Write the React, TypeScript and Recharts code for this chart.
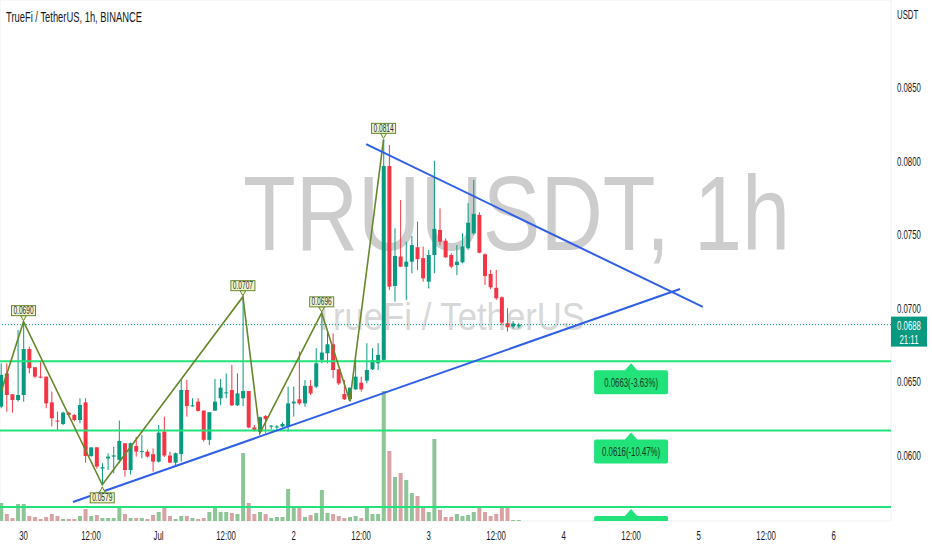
import React from 'react';
import {
  ComposedChart, Bar, Line, XAxis, YAxis, CartesianGrid, ReferenceLine, ReferenceDot, Cell,
} from 'recharts';

const W = 932;
const H = 550;
const PLOT_W = 891;
const PLOT_H = 521;
const AXIS_W = W - PLOT_W;
const XAXIS_H = H - PLOT_H;

const UP = '#089981';
const DOWN = '#f23645';
const VOL_UP = '#8cc596';
const VOL_DOWN = '#d9a2a5';
const LEVEL = '#22e27a';
const ZIG = '#66882a';
const TREND = '#2f5fe6';
const FONT = '"Liberation Sans", Arial, sans-serif';

// ── hourly candles, TRU/USDT ──────────────────────────────────────────────────
const opens = [
  0.06322, 0.06548, 0.06406, 0.06367, 0.06401, 0.06714, 0.06590, 0.06526, 0.06526, 0.06351,
  0.06227, 0.06204, 0.06281, 0.06265, 0.06231, 0.06351, 0.05986, 0.06045, 0.05901, 0.05970,
  0.05982, 0.05960, 0.06073, 0.05891, 0.06054, 0.06014, 0.06016, 0.05998, 0.05948, 0.06152,
  0.05989, 0.05941, 0.06000, 0.06435, 0.06326, 0.06356, 0.06295, 0.06096, 0.06295, 0.06379,
  0.06412, 0.06435, 0.06331, 0.06379, 0.06428, 0.06180, 0.06152, 0.06258, 0.06187, 0.06180,
  0.06187, 0.06187, 0.06344, 0.06372, 0.06344, 0.06463, 0.06458, 0.06640, 0.06685, 0.06746,
  0.06576, 0.06408, 0.06372, 0.06440, 0.06485, 0.06499, 0.06576, 0.06617, 0.06640, 0.07959,
  0.07143, 0.07343, 0.07274, 0.07308, 0.07406, 0.07332, 0.07172, 0.07353, 0.07524, 0.07451,
  0.07353, 0.07285, 0.07304, 0.07399, 0.07501, 0.07626, 0.07358, 0.07224, 0.07130, 0.07066,
  0.06889, 0.06866, 0.06868,
];
const highs = [
  0.06617, 0.06617, 0.06406, 0.06843, 0.06900, 0.06730, 0.06590, 0.06628, 0.06526, 0.06424,
  0.06288, 0.06288, 0.06286, 0.06271, 0.06379, 0.06379, 0.06045, 0.06045, 0.05937, 0.06005,
  0.06049, 0.06227, 0.06073, 0.06078, 0.06117, 0.06129, 0.06030, 0.06038, 0.06197, 0.06254,
  0.06016, 0.06010, 0.06503, 0.06503, 0.06379, 0.06379, 0.06295, 0.06284, 0.06510, 0.06510,
  0.06548, 0.06606, 0.06548, 0.07070, 0.06428, 0.06197, 0.06254, 0.06265, 0.06197, 0.06197,
  0.06215, 0.06458, 0.06458, 0.06697, 0.06503, 0.06503, 0.06719, 0.06960, 0.06831, 0.06820,
  0.06576, 0.06503, 0.06451, 0.06639, 0.06526, 0.06753, 0.06719, 0.06753, 0.08140, 0.08102,
  0.07535, 0.07728, 0.07444, 0.07483, 0.07580, 0.07411, 0.07388, 0.07995, 0.07671, 0.07467,
  0.07365, 0.07421, 0.07501, 0.07706, 0.07864, 0.07644, 0.07365, 0.07252, 0.07252, 0.07072,
  0.06991, 0.06905, 0.06890,
];
const lows = [
  0.06311, 0.06288, 0.06281, 0.06356, 0.06356, 0.06548, 0.06515, 0.06515, 0.06311, 0.06187,
  0.06164, 0.06197, 0.06258, 0.06222, 0.06209, 0.05941, 0.05980, 0.05901, 0.05790, 0.05891,
  0.05869, 0.05937, 0.05846, 0.05860, 0.05982, 0.05970, 0.05975, 0.05880, 0.05941, 0.05980,
  0.05937, 0.05925, 0.05948, 0.06254, 0.06321, 0.06288, 0.06084, 0.06061, 0.06293, 0.06331,
  0.06379, 0.06326, 0.06326, 0.06326, 0.06175, 0.06152, 0.06141, 0.06141, 0.06168, 0.06152,
  0.06180, 0.06152, 0.06254, 0.06333, 0.06321, 0.06401, 0.06447, 0.06617, 0.06617, 0.06515,
  0.06469, 0.06367, 0.06356, 0.06435, 0.06424, 0.06480, 0.06571, 0.06571, 0.06630, 0.07116,
  0.07036, 0.07272, 0.07048, 0.07229, 0.07252, 0.07172, 0.07126, 0.07229, 0.07421, 0.07332,
  0.07263, 0.07217, 0.07297, 0.07388, 0.07490, 0.07365, 0.07150, 0.07121, 0.07048, 0.06878,
  0.06833, 0.06853, 0.06855,
];
const closes = [
  0.06538, 0.06401, 0.06367, 0.06401, 0.06714, 0.06583, 0.06526, 0.06522, 0.06344, 0.06243,
  0.06222, 0.06281, 0.06265, 0.06231, 0.06333, 0.05986, 0.06045, 0.05914, 0.05910, 0.05982,
  0.05990, 0.06089, 0.05891, 0.06073, 0.06016, 0.06020, 0.05982, 0.05948, 0.06145, 0.05989,
  0.05941, 0.06005, 0.06435, 0.06326, 0.06331, 0.06293, 0.06096, 0.06284, 0.06356, 0.06451,
  0.06419, 0.06331, 0.06412, 0.06428, 0.06180, 0.06164, 0.06250, 0.06237, 0.06193, 0.06187,
  0.06204, 0.06344, 0.06356, 0.06344, 0.06463, 0.06412, 0.06617, 0.06690, 0.06746, 0.06571,
  0.06480, 0.06372, 0.06451, 0.06526, 0.06440, 0.06571, 0.06639, 0.06674, 0.07959, 0.07138,
  0.07347, 0.07274, 0.07308, 0.07421, 0.07325, 0.07195, 0.07353, 0.07531, 0.07444, 0.07338,
  0.07274, 0.07308, 0.07411, 0.07573, 0.07633, 0.07369, 0.07211, 0.07134, 0.07059, 0.06894,
  0.06862, 0.06888, 0.06880,
];
const volumes = [
  18, 7, 3, 17, 17, 5, 4, 2, 4, 7,
  5, 2, 2, 2, 5, 12, 5, 6, 3, 3,
  3, 14, 7, 3, 3, 3, 2, 6, 9, 14,
  5, 2, 5, 5, 3, 2, 3, 9, 15, 9,
  9, 8, 7, 68, 18, 7, 9, 7, 3, 4,
  4, 32, 13, 15, 4, 6, 8, 31, 8, 7,
  5, 3, 4, 5, 3, 14, 7, 7, 130, 70,
  44, 48, 41, 28, 25, 14, 9, 82, 11, 4,
  4, 7, 5, 6, 9, 13, 9, 5, 7, 13,
  14, 1, 1,
];

// zigzag pivots (candle index, price)
const zigIdx = [0, 4, 18, 43, 46, 57, 62, 68];
const zigPrice = [0.06422, 0.0690, 0.0579, 0.0707, 0.0614, 0.0696, 0.0636, 0.0814];
const pivotIdx = [4, 18, 43, 57, 68];
const pivotPrice = [0.0690, 0.0579, 0.0707, 0.0696, 0.0814];
const pivotText = ['0.0690', '0.0579', '0.0707', '0.0696', '0.0814'];
const pivotIsHigh = [true, false, true, true, true];

// support levels (the last tag is cut off by the pane bottom)
const levels = [0.0663, 0.0616, 0.0564];
const levelText = ['0.0663(-3.63%)', '0.0616(-10.47%)', '0.0564(-18.02%)'];
const levelLabelIdx = 112;

// trend lines: [startIdx, startPrice, endIdx, endPrice]
const ascLine = [12.8, 0.05673, 120.7, 0.07122];
const descLine = [64.9, 0.08107, 124.75, 0.0700];

const currentPrice = 0.0688;
const countdown = '21:11';

const timeTicks = [4, 16, 28, 40, 52, 64, 76, 88, 100, 112, 124, 136, 148];
const timeLabels = ['30', '12:00', 'Jul', '12:00', '2', '12:00', '3', '12:00', '4', '12:00', '5', '12:00', '6'];
const priceTicks = [0.06, 0.065, 0.07, 0.075, 0.08, 0.085, 0.09];

const xDomain = [-0.18, 158.2];
const yDomain = [0.05544, 0.09088];

const zz = new Map(zigIdx.map((k, j) => [k, zigPrice[j]]));
const candles = opens.map((o, i) => ({
  i, o, h: highs[i], l: lows[i], c: closes[i], v: volumes[i],
  zz: zz.has(i) ? zz.get(i) : null,
}));

// ── shapes ────────────────────────────────────────────────────────────────────

function Candle(props: any) {
  const { x, y, width, height, payload } = props;
  if (!payload || y == null || height == null) return null;
  const { o, h, l, c } = payload;
  const top = Math.min(y, y + height);
  const span = Math.abs(height);
  const toY = (p: number) => top + ((h - p) / (h - l || 1)) * span;
  const color = c >= o ? UP : DOWN;
  const cx = x + width / 2;
  const bTop = toY(Math.max(o, c));
  const bBot = toY(Math.min(o, c));
  return (
    <g>
      <line x1={cx} x2={cx} y1={top} y2={top + span} stroke={color} strokeWidth={1} />
      <rect x={x} y={bTop} width={width} height={Math.max(1, bBot - bTop)} fill={color} />
    </g>
  );
}

function Squeezed({ x, y, text, size, fill, anchor = 'middle', sx = 0.6, weight = 400 }: any) {
  return (
    <g transform={`translate(${x},${y}) scale(${sx},1)`}>
      <text x={0} y={0} textAnchor={anchor} fontSize={size} fill={fill} fontFamily={FONT} fontWeight={weight}>
        {text}
      </text>
    </g>
  );
}

function TimeTick(props: any) {
  const { x, y, payload } = props;
  const k = timeTicks.indexOf(payload.value);
  return <Squeezed x={x} y={y + 19} text={timeLabels[k] ?? ''} size={13} fill="#131722" />;
}

function PriceTick(props: any) {
  const { x, y, payload } = props;
  const v = payload.value;
  const text = v >= 0.0899 ? 'USDT' : v.toFixed(4);
  return <Squeezed x={x} y={y + 6} text={text} size={13} fill="#131722" anchor="start" />;
}

function PivotTag({ cx, cy, text, high }: any) {
  if (cx == null || cy == null) return null;
  const bw = 24;
  const bh = 10;
  const boxY = high ? cy - 6 - bh : cy + 8;
  const tri = high
    ? `${cx - 3},${cy - 6} ${cx},${cy - 1} ${cx + 3},${cy - 6}`
    : `${cx - 3},${cy + 8} ${cx},${cy + 2} ${cx + 3},${cy + 8}`;
  return (
    <g>
      <polygon points={tri} fill="#f1f6cf" stroke={ZIG} strokeWidth={1} />
      <rect x={cx - bw / 2} y={boxY} width={bw} height={bh} fill="#f1f6cf" stroke={ZIG} strokeWidth={1} />
      <Squeezed x={cx} y={boxY + 8.5} text={text} size={10} fill="#2a2e39" sx={0.66} />
    </g>
  );
}

function LevelTag({ cx, cy, text }: any) {
  if (cx == null || cy == null) return null;
  const fits = cy + 33 <= PLOT_H;
  return (
    <g clipPath="url(#plotClip)">
      <polygon points={`${cx - 7},${cy + 10} ${cx},${cy + 2} ${cx + 7},${cy + 10}`} fill={LEVEL} />
      <rect x={cx - 37} y={cy + 9} width={74} height={24} rx={2} fill={LEVEL} />
      {fits && <Squeezed x={cx} y={cy + 26} text={text} size={13} fill="#0e3b22" />}
    </g>
  );
}

function PriceTag({ cx, cy }: any) {
  if (cx == null || cy == null) return null;
  return (
    <g>
      <rect x={cx} y={cy - 8} width={36} height={30} fill={UP} />
      <Squeezed x={cx + 18} y={cy + 5} text={currentPrice.toFixed(4)} size={13} fill="#ffffff" />
      <Squeezed x={cx + 18} y={cy + 19} text={countdown} size={13} fill="#ffffff" />
    </g>
  );
}

// ── chart ─────────────────────────────────────────────────────────────────────

const margin = { top: 0, right: 0, left: 0, bottom: 0 };
const layer: React.CSSProperties = { position: 'absolute', left: 0, top: 0 };

export default function App() {
  return (
    <div style={{ position: 'absolute', left: 0, top: 0, width: W, height: H, background: '#fff', overflow: 'hidden' }}>
      {/* watermark */}
      <svg width={W} height={H} style={layer}>
        <text x={243} y={250} fontSize={105} textLength={547} lengthAdjust="spacingAndGlyphs" fill="#cdcdcd" fontFamily={FONT}>
          TRUUSDT, 1h
        </text>
        <text x={313} y={330} fontSize={39} textLength={272} lengthAdjust="spacingAndGlyphs" fill="#d8d8d8" fontFamily={FONT}>
          TrueFi / TetherUS
        </text>
      </svg>

      {/* grid + volume */}
      <div style={layer}>
        <ComposedChart width={W} height={H} data={candles} margin={margin}>
          <XAxis dataKey="i" type="number" domain={xDomain} allowDataOverflow ticks={timeTicks}
            tick={false} axisLine={false} tickLine={false} height={XAXIS_H} />
          <YAxis yAxisId="p" orientation="right" width={AXIS_W} domain={yDomain} allowDataOverflow
            ticks={priceTicks} tick={false} axisLine={false} tickLine={false} />
          <YAxis yAxisId="v" hide domain={[0, PLOT_H]} allowDataOverflow />
          <CartesianGrid yAxisId="p" stroke="#eff1f5" />
          <Bar yAxisId="v" dataKey="v" barSize={4} isAnimationActive={false}>
            {candles.map(d => (
              <Cell key={d.i} fill={d.c >= d.o ? VOL_UP : VOL_DOWN} />
            ))}
          </Bar>
        </ComposedChart>
      </div>

      {/* price pane */}
      <div style={layer}>
        <ComposedChart width={W} height={H} data={candles} margin={margin}>
          <defs>
            <clipPath id="plotClip">
              <rect x={0} y={0} width={PLOT_W} height={PLOT_H} />
            </clipPath>
          </defs>
          <XAxis dataKey="i" type="number" domain={xDomain} allowDataOverflow ticks={timeTicks} interval={0}
            tick={<TimeTick />} axisLine={false} tickLine={false} tickSize={0} tickMargin={0} height={XAXIS_H} />
          <YAxis orientation="right" width={AXIS_W} domain={yDomain} allowDataOverflow ticks={priceTicks} interval={0}
            tick={<PriceTick />} axisLine={false} tickLine={false} tickSize={0} tickMargin={6} />

          {levels.map(v => (
            <ReferenceLine key={v} y={v} stroke={LEVEL} strokeWidth={2} />
          ))}
          <ReferenceLine y={currentPrice} stroke={UP} strokeDasharray="1 2" />

          <Bar dataKey={(d: any) => [d.l, d.h]} shape={<Candle />} barSize={4} isAnimationActive={false} />

          <Line dataKey="zz" connectNulls dot={false} stroke={ZIG} strokeWidth={1.6} isAnimationActive={false} />

          <ReferenceLine
            segment={[{ x: ascLine[0], y: ascLine[1] }, { x: ascLine[2], y: ascLine[3] }]}
            stroke={TREND} strokeWidth={2}
          />
          <ReferenceLine
            segment={[{ x: descLine[0], y: descLine[1] }, { x: descLine[2], y: descLine[3] }]}
            stroke={TREND} strokeWidth={2}
          />

          {pivotIdx.map((k, j) => (
            <ReferenceDot key={k} x={k} y={pivotPrice[j]} r={0}
              shape={(p: any) => <PivotTag cx={p.cx} cy={p.cy} text={pivotText[j]} high={pivotIsHigh[j]} />} />
          ))}
          {levels.map((v, j) => (
            <ReferenceDot key={'l' + v} x={levelLabelIdx} y={v} r={0}
              shape={(p: any) => <LevelTag cx={p.cx} cy={p.cy} text={levelText[j]} />} />
          ))}
          <ReferenceDot x={xDomain[1]} y={currentPrice} r={0} ifOverflow="visible"
            shape={(p: any) => <PriceTag cx={p.cx} cy={p.cy} />} />
        </ComposedChart>
      </div>

      <svg width={W} height={40} style={layer}>
        <text x={6} y={22} fontSize={14} textLength={136} lengthAdjust="spacingAndGlyphs" fill="#131722" fontFamily={FONT}>
          TrueFi / TetherUS, 1h, BINANCE
        </text>
      </svg>
    </div>
  );
}
